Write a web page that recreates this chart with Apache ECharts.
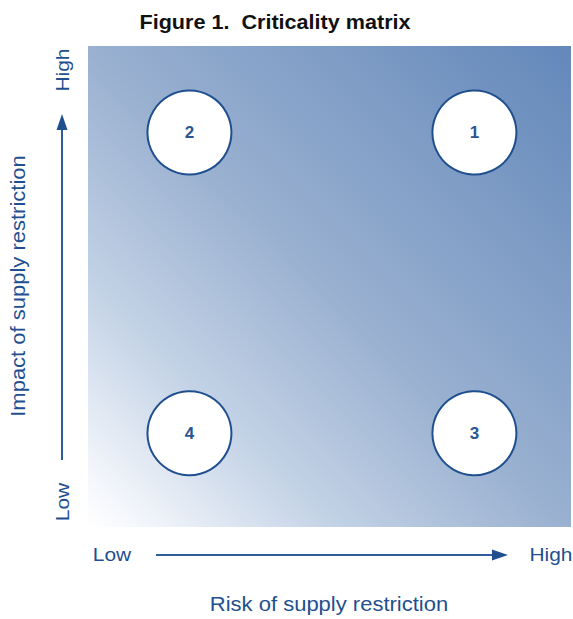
<!DOCTYPE html>
<html>
<head>
<meta charset="utf-8">
<script src="https://cdn.jsdelivr.net/npm/echarts@6/dist/echarts.min.js"></script>
<style>
html,body{margin:0;padding:0;background:#fff;}
#chart{width:573px;height:619px;}
</style>
</head>
<body>
<div id="chart"></div>
<script>
// Quadrant ids and their positions (fraction of the risk / impact ranges)
const quadrantIds = ['1', '2', '3', '4'];
const riskValues = [0.80, 0.21, 0.80, 0.21];
const impactValues = [0.82, 0.82, 0.195, 0.195];
const levelLabels = ['Low', 'High'];
const titleText = 'Figure 1.  Criticality matrix';
const xAxisTitle = 'Risk of supply restriction';
const yAxisTitle = 'Impact of supply restriction';

const blue = '#1f4f8f';
const font = 'Liberation Sans, Arial, Helvetica, sans-serif';

const chart = echarts.init(document.getElementById('chart'), null, {renderer: 'svg'});

const points = quadrantIds.map((id, i) => [riskValues[i], impactValues[i], id]);

function txt(text, x, y, opts) {
  opts = opts || {};
  return {
    type: 'text',
    x: x, y: y,
    rotation: opts.rotation || 0,
    scaleX: opts.stretch || 1.1, scaleY: 1,
    silent: true,
    z: 10,
    style: {
      text: text,
      fill: opts.color || blue,
      font: (opts.weight || 'normal') + ' ' + (opts.size || 19) + 'px ' + font,
      align: 'center',
      verticalAlign: 'middle'
    }
  };
}

const option = {
  animation: false,
  backgroundColor: '#ffffff',
  grid: {
    left: 88, top: 46, width: 483, height: 481,
    show: true,
    borderWidth: 0,
    backgroundColor: new echarts.graphic.LinearGradient(0, 1, 1, 0, [
      {offset: 0, color: '#ffffff'},
      {offset: 0.06, color: '#f3f6fb'},
      {offset: 0.25, color: '#c4d3e6'},
      {offset: 0.5, color: '#99b0d0'},
      {offset: 0.75, color: '#7e9cc5'},
      {offset: 1, color: '#6388ba'}
    ])
  },
  xAxis: {
    type: 'value', min: 0, max: 1, interval: 1,
    axisLine: {show: false}, axisTick: {show: false},
    axisLabel: {show: false}, splitLine: {show: false}
  },
  yAxis: {
    type: 'value', min: 0, max: 1, interval: 1,
    axisLine: {show: false}, axisTick: {show: false},
    axisLabel: {show: false}, splitLine: {show: false}
  },
  series: [{
    type: 'scatter',
    data: points,
    symbol: 'circle',
    symbolSize: 84,
    itemStyle: {color: '#ffffff', borderColor: blue, borderWidth: 2, opacity: 1},
    label: {
      show: true,
      position: 'inside',
      formatter: p => p.data[2],
      color: '#2a5592',
      fontSize: 17,
      fontWeight: 'bold',
      fontFamily: font
    },
    emphasis: {disabled: true}
  }],
  graphic: [
    txt(titleText, 275, 22, {color: '#111111', weight: 'bold', size: 20, stretch: 1.08}),
    // y axis
    txt(levelLabels[1], 62, 70, {rotation: Math.PI / 2, size: 19}),
    txt(levelLabels[0], 62, 502, {rotation: Math.PI / 2, size: 19}),
    txt(yAxisTitle, 18, 286, {rotation: Math.PI / 2, size: 20}),
    // x axis
    txt(levelLabels[0], 112, 554, {size: 19}),
    txt(levelLabels[1], 551, 554, {size: 19}),
    txt(xAxisTitle, 329, 604, {size: 20}),
    // arrows
    {type: 'line', silent: true, shape: {x1: 62, y1: 460, x2: 62, y2: 128},
      style: {stroke: '#2d5c9b', lineWidth: 2}},
    {type: 'polygon', silent: true, shape: {points: [[62, 114], [56.5, 130], [67.5, 130]]},
      style: {fill: blue}},
    {type: 'line', silent: true, shape: {x1: 156, y1: 555, x2: 494, y2: 555},
      style: {stroke: '#2d5c9b', lineWidth: 2}},
    {type: 'polygon', silent: true, shape: {points: [[508, 555], [492, 549.5], [492, 560.5]]},
      style: {fill: blue}}
  ]
};
chart.setOption(option);
</script>
</body>
</html>
